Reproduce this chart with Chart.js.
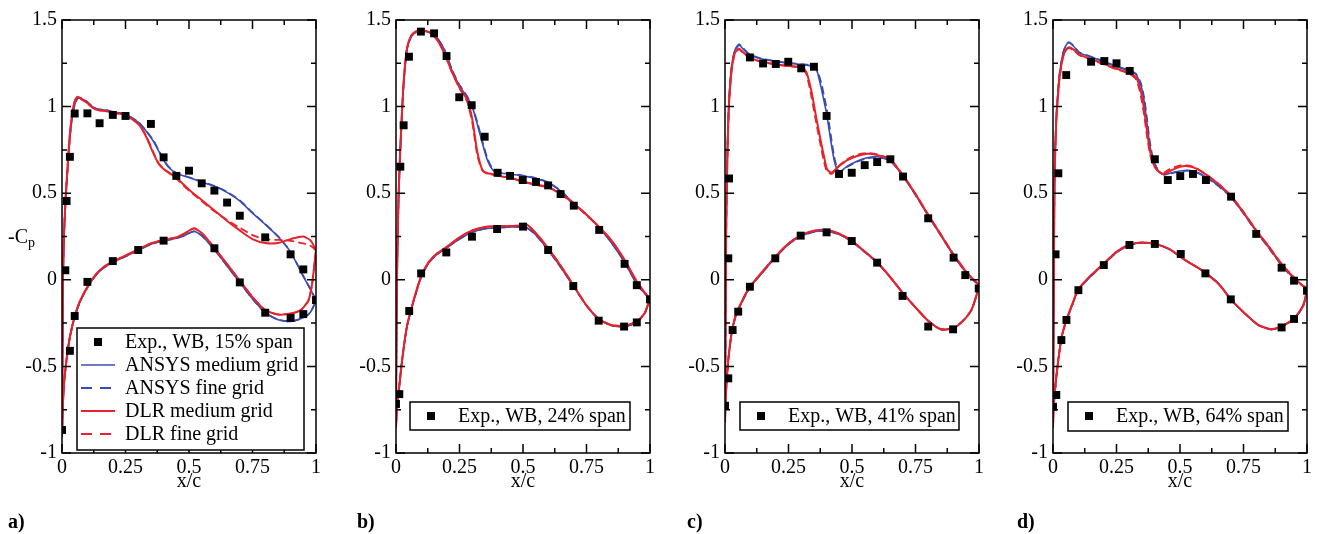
<!DOCTYPE html>
<html lang="en">
<head>
<meta charset="UTF-8">
<title>Pressure distributions</title>
<script src="https://cdn.jsdelivr.net/npm/chart.js"></script>
<style>
  body { margin: 0; background: #fff; width: 1319px; height: 534px; position: relative; overflow: hidden;
         font-family: 'Liberation Serif', 'Times New Roman', serif; color: #000; }
  .panel { position: absolute; top: 0; }
  .tag { position: absolute; top: 511px; font-size: 20px; font-weight: bold; line-height: 20px; }
  .ylab { position: absolute; left: 8px; top: 226px; font-size: 20px; line-height: 20px; }
  .ylab sub { font-size: 14px; vertical-align: -4px; }
</style>
</head>
<body>
<canvas id="chartA" class="panel" width="320" height="534" style="left:4px"></canvas>
<canvas id="chartB" class="panel" width="320" height="534" style="left:338px"></canvas>
<canvas id="chartC" class="panel" width="320" height="534" style="left:667px"></canvas>
<canvas id="chartD" class="panel" width="320" height="534" style="left:995px"></canvas>
<div class="ylab">-C<sub>p</sub></div>
<div class="tag" style="left:8px">a)</div>
<div class="tag" style="left:357px">b)</div>
<div class="tag" style="left:687px">c)</div>
<div class="tag" style="left:1017px">d)</div>
<script>
// axis ticks
var xMajorTicks = [0, 0.25, 0.5, 0.75, 1];
var xMinorTicks = [0.125, 0.375, 0.625, 0.875];
var yMajorTicks = [-1, -0.5, 0, 0.5, 1, 1.5];
var yMinorTicks = [-0.75, -0.25, 0.25, 0.75, 1.25];

// ---- a) 15% span ----
var aXUpper = [0, 0.002, 0.004, 0.008, 0.014, 0.02, 0.025, 0.031, 0.04, 0.05, 0.06, 0.07, 0.085, 0.1, 0.12, 0.14, 0.17, 0.2, 0.25, 0.3, 0.33, 0.36, 0.38, 0.4, 0.42, 0.45, 0.5, 0.55, 0.6, 0.65, 0.7, 0.75, 0.8, 0.85, 0.9, 0.95, 0.98, 1.0];
var aAnsysMedUpper = [-0.9, -0.4, 0.0, 0.25, 0.45, 0.59, 0.7, 0.82, 0.94, 1.01, 1.045, 1.05, 1.04, 1.025, 1.0, 0.985, 0.98, 0.97, 0.955, 0.91, 0.86, 0.8, 0.745, 0.69, 0.65, 0.615, 0.59, 0.565, 0.54, 0.505, 0.455, 0.385, 0.32, 0.25, 0.16, 0.02, -0.06, -0.12];
var aAnsysFineUpper = [-0.9, -0.4, 0.0, 0.25, 0.45, 0.59, 0.7, 0.82, 0.94, 1.01, 1.045, 1.052, 1.042, 1.027, 1.0, 0.985, 0.98, 0.97, 0.955, 0.912, 0.862, 0.805, 0.75, 0.695, 0.652, 0.617, 0.592, 0.567, 0.542, 0.508, 0.458, 0.388, 0.322, 0.252, 0.162, 0.022, -0.058, -0.12];
var aDlrMedUpper = [-0.9, -0.4, 0.02, 0.27, 0.47, 0.61, 0.72, 0.84, 0.96, 1.03, 1.057, 1.05, 1.035, 1.02, 0.995, 0.98, 0.975, 0.965, 0.95, 0.9, 0.83, 0.73, 0.67, 0.64, 0.62, 0.59, 0.52, 0.46, 0.4, 0.34, 0.285, 0.235, 0.212, 0.212, 0.235, 0.25, 0.225, 0.17];
var aDlrFineUpper = [-0.9, -0.4, 0.02, 0.27, 0.47, 0.61, 0.72, 0.84, 0.96, 1.03, 1.057, 1.05, 1.035, 1.02, 0.995, 0.98, 0.975, 0.965, 0.95, 0.9, 0.835, 0.735, 0.675, 0.642, 0.618, 0.585, 0.515, 0.455, 0.395, 0.345, 0.3, 0.258, 0.235, 0.23, 0.225, 0.21, 0.195, 0.17];
var aXLower = [0, 0.003, 0.008, 0.018, 0.031, 0.05, 0.07, 0.1, 0.13, 0.16, 0.2, 0.25, 0.3, 0.35, 0.4, 0.45, 0.48, 0.52, 0.55, 0.6, 0.65, 0.7, 0.75, 0.8, 0.85, 0.9, 0.94, 0.97, 0.985, 1.0];
// lower side: medium and fine grids coincide
var aAnsysLower = [-0.9, -0.74, -0.6, -0.46, -0.33, -0.215, -0.13, -0.045, 0.02, 0.065, 0.1, 0.135, 0.17, 0.205, 0.225, 0.24, 0.255, 0.28, 0.255, 0.175, 0.08, -0.015, -0.11, -0.19, -0.23, -0.24, -0.225, -0.2, -0.17, -0.12];
var aDlrLower = [-0.9, -0.74, -0.6, -0.46, -0.33, -0.21, -0.125, -0.04, 0.025, 0.07, 0.105, 0.14, 0.175, 0.21, 0.23, 0.245, 0.265, 0.297, 0.27, 0.185, 0.09, -0.005, -0.1, -0.175, -0.2, -0.195, -0.175, -0.12, -0.02, 0.17];
var aExpX = [0.013, 0.018, 0.031, 0.05, 0.1, 0.148, 0.2, 0.25, 0.35, 0.4, 0.45, 0.5, 0.55, 0.6, 0.65, 0.7, 0.8, 0.9, 0.95, 0, 0.031, 0.05, 0.1, 0.2, 0.3, 0.4, 0.6, 0.7, 0.8, 0.9, 0.95, 1.0];
var aExpY = [0.055, 0.455, 0.71, 0.96, 0.961, 0.904, 0.952, 0.946, 0.9, 0.707, 0.6, 0.63, 0.557, 0.515, 0.446, 0.37, 0.245, 0.147, 0.06, -0.867, -0.41, -0.209, -0.012, 0.108, 0.172, 0.226, 0.182, -0.015, -0.19, -0.22, -0.198, -0.117];

// ---- b) 24% span ----
var bXUpper = [0, 0.002, 0.005, 0.01, 0.015, 0.02, 0.03, 0.043, 0.06, 0.08, 0.1, 0.13, 0.16, 0.19, 0.22, 0.25, 0.28, 0.3, 0.32, 0.34, 0.36, 0.38, 0.4, 0.45, 0.5, 0.55, 0.6, 0.65, 0.7, 0.75, 0.8, 0.85, 0.9, 0.95, 0.98, 1.0];
var bAnsysMedUpper = [-0.85, -0.3, 0.1, 0.46, 0.67, 0.85, 1.13, 1.33, 1.405, 1.43, 1.435, 1.43, 1.4, 1.33, 1.21, 1.12, 1.055, 1.0, 0.9, 0.79, 0.69, 0.635, 0.62, 0.61, 0.6, 0.585, 0.56, 0.51, 0.44, 0.375, 0.3, 0.21, 0.1, -0.03, -0.08, -0.11];
var bAnsysFineUpper = [-0.85, -0.3, 0.1, 0.46, 0.67, 0.85, 1.13, 1.33, 1.405, 1.43, 1.435, 1.43, 1.4, 1.33, 1.215, 1.125, 1.06, 1.005, 0.91, 0.8, 0.7, 0.64, 0.622, 0.612, 0.602, 0.587, 0.562, 0.512, 0.442, 0.377, 0.302, 0.212, 0.102, -0.028, -0.08, -0.11];
var bDlrMedUpper = [-0.85, -0.3, 0.12, 0.48, 0.69, 0.86, 1.14, 1.335, 1.41, 1.435, 1.44, 1.43, 1.39, 1.31, 1.2, 1.11, 1.04, 0.93, 0.74, 0.635, 0.615, 0.61, 0.6, 0.59, 0.568, 0.55, 0.535, 0.495, 0.44, 0.375, 0.305, 0.225, 0.115, -0.015, -0.075, -0.11];
var bDlrFineUpper = [-0.85, -0.3, 0.12, 0.48, 0.69, 0.86, 1.14, 1.335, 1.41, 1.435, 1.44, 1.43, 1.39, 1.31, 1.2, 1.105, 1.03, 0.91, 0.72, 0.63, 0.612, 0.607, 0.598, 0.588, 0.566, 0.548, 0.533, 0.493, 0.438, 0.373, 0.303, 0.223, 0.113, -0.017, -0.075, -0.11];
var bXLower = [0, 0.003, 0.01, 0.024, 0.043, 0.07, 0.1, 0.13, 0.16, 0.2, 0.25, 0.3, 0.35, 0.4, 0.45, 0.5, 0.515, 0.55, 0.6, 0.65, 0.7, 0.75, 0.8, 0.85, 0.9, 0.95, 0.98, 1.0];
var bAnsysLower = [-0.85, -0.75, -0.655, -0.465, -0.27, -0.12, 0.02, 0.1, 0.145, 0.185, 0.235, 0.275, 0.295, 0.3, 0.305, 0.305, 0.3, 0.26, 0.17, 0.07, -0.04, -0.15, -0.23, -0.265, -0.27, -0.245, -0.19, -0.11];
var bDlrLower = [-0.85, -0.75, -0.655, -0.465, -0.27, -0.115, 0.025, 0.105, 0.15, 0.19, 0.245, 0.285, 0.305, 0.31, 0.31, 0.315, 0.318, 0.27, 0.18, 0.078, -0.035, -0.148, -0.228, -0.262, -0.265, -0.24, -0.19, -0.11];
var bExpX = [0.017, 0.03, 0.051, 0.098, 0.15, 0.199, 0.249, 0.298, 0.349, 0.4, 0.449, 0.499, 0.551, 0.599, 0.648, 0.7, 0.8, 0.9, 0.948, 0, 0.013, 0.052, 0.099, 0.198, 0.299, 0.398, 0.5, 0.599, 0.698, 0.798, 0.898, 0.948, 1.0];
var bExpY = [0.653, 0.892, 1.288, 1.433, 1.423, 1.292, 1.054, 1.008, 0.826, 0.618, 0.6, 0.576, 0.565, 0.545, 0.495, 0.428, 0.288, 0.092, -0.031, -0.717, -0.66, -0.18, 0.037, 0.158, 0.249, 0.293, 0.307, 0.172, -0.036, -0.236, -0.27, -0.246, -0.113];

// ---- c) 41% span ----
var cXUpper = [0, 0.002, 0.005, 0.01, 0.016, 0.026, 0.039, 0.055, 0.07, 0.09, 0.12, 0.16, 0.2, 0.25, 0.3, 0.32, 0.34, 0.36, 0.38, 0.39, 0.4, 0.41, 0.42, 0.43, 0.44, 0.45, 0.48, 0.52, 0.56, 0.6, 0.65, 0.7, 0.75, 0.8, 0.85, 0.9, 0.95, 0.98, 1.0];
var cAnsysMedUpper = [-0.82, -0.3, 0.35, 0.78, 1.04, 1.23, 1.325, 1.355, 1.335, 1.305, 1.285, 1.27, 1.26, 1.25, 1.243, 1.24, 1.235, 1.215, 1.1, 1.03, 0.96, 0.865, 0.77, 0.69, 0.64, 0.62, 0.655, 0.685, 0.705, 0.71, 0.69, 0.6, 0.49, 0.37, 0.255, 0.14, 0.04, -0.005, -0.03];
var cAnsysFineUpper = [-0.82, -0.3, 0.35, 0.78, 1.04, 1.23, 1.325, 1.36, 1.34, 1.31, 1.288, 1.272, 1.262, 1.252, 1.245, 1.242, 1.237, 1.222, 1.13, 1.06, 0.99, 0.9, 0.8, 0.71, 0.65, 0.622, 0.652, 0.682, 0.702, 0.707, 0.688, 0.6, 0.49, 0.37, 0.255, 0.14, 0.04, -0.005, -0.03];
var cDlrMedUpper = [-0.82, -0.3, 0.33, 0.75, 1.02, 1.21, 1.31, 1.335, 1.315, 1.29, 1.27, 1.255, 1.245, 1.235, 1.228, 1.2, 1.09, 0.93, 0.78, 0.71, 0.645, 0.625, 0.62, 0.63, 0.645, 0.658, 0.69, 0.715, 0.728, 0.72, 0.695, 0.605, 0.495, 0.375, 0.26, 0.145, 0.045, 0.0, -0.03];
var cDlrFineUpper = [-0.82, -0.3, 0.33, 0.75, 1.02, 1.21, 1.31, 1.33, 1.312, 1.288, 1.268, 1.253, 1.243, 1.233, 1.225, 1.19, 1.06, 0.9, 0.75, 0.68, 0.63, 0.615, 0.612, 0.625, 0.642, 0.66, 0.695, 0.722, 0.732, 0.724, 0.698, 0.607, 0.497, 0.377, 0.262, 0.147, 0.047, 0.0, -0.03];
var cXLower = [0, 0.002, 0.006, 0.013, 0.026, 0.04, 0.055, 0.08, 0.1, 0.146, 0.2, 0.25, 0.3, 0.35, 0.4, 0.45, 0.5, 0.55, 0.6, 0.65, 0.7, 0.75, 0.8, 0.85, 0.9, 0.94, 0.97, 0.99, 1.0];
var cAnsysLower = [-0.82, -0.7, -0.6, -0.463, -0.31, -0.22, -0.165, -0.09, -0.04, 0.04, 0.132, 0.205, 0.252, 0.277, 0.282, 0.262, 0.22, 0.16, 0.098, 0.015, -0.077, -0.16, -0.237, -0.285, -0.278, -0.232, -0.175, -0.09, -0.03];
var cDlrLower = [-0.82, -0.7, -0.6, -0.463, -0.305, -0.215, -0.16, -0.085, -0.035, 0.045, 0.137, 0.21, 0.258, 0.283, 0.287, 0.266, 0.224, 0.164, 0.1, 0.017, -0.075, -0.16, -0.237, -0.287, -0.28, -0.233, -0.175, -0.09, -0.03];
var cExpX = [0.013, 0.016, 0.098, 0.15, 0.2, 0.249, 0.3, 0.35, 0.4, 0.449, 0.499, 0.55, 0.599, 0.651, 0.701, 0.8, 0.9, 0.946, 0.999, 0, 0.013, 0.03, 0.052, 0.098, 0.198, 0.298, 0.4, 0.499, 0.599, 0.699, 0.8, 0.898];
var cExpY = [0.124, 0.585, 1.284, 1.249, 1.246, 1.259, 1.221, 1.23, 0.946, 0.611, 0.618, 0.662, 0.68, 0.696, 0.596, 0.355, 0.128, 0.027, -0.05, -0.727, -0.569, -0.29, -0.184, -0.04, 0.124, 0.255, 0.274, 0.224, 0.099, -0.093, -0.27, -0.286];

// ---- d) 64% span ----
var dXUpper = [0, 0.002, 0.004, 0.0065, 0.013, 0.02, 0.026, 0.039, 0.05, 0.062, 0.08, 0.104, 0.143, 0.195, 0.247, 0.3, 0.326, 0.34, 0.35, 0.36, 0.37, 0.38, 0.39, 0.4, 0.417, 0.436, 0.46, 0.5, 0.53, 0.56, 0.6, 0.65, 0.7, 0.75, 0.8, 0.85, 0.9, 0.95, 0.98, 1.0];
var dAnsysMedUpper = [-0.85, -0.3, 0.2, 0.64, 0.94, 1.09, 1.19, 1.305, 1.35, 1.37, 1.35, 1.31, 1.29, 1.262, 1.232, 1.207, 1.185, 1.145, 1.1, 1.02, 0.9, 0.79, 0.71, 0.665, 0.625, 0.607, 0.615, 0.628, 0.632, 0.625, 0.596, 0.545, 0.48, 0.385, 0.28, 0.185, 0.085, 0.005, -0.03, -0.05];
var dAnsysFineUpper = [-0.85, -0.3, 0.2, 0.64, 0.94, 1.09, 1.19, 1.305, 1.352, 1.372, 1.352, 1.312, 1.292, 1.264, 1.234, 1.21, 1.19, 1.155, 1.115, 1.04, 0.93, 0.81, 0.725, 0.672, 0.628, 0.608, 0.613, 0.625, 0.63, 0.623, 0.594, 0.543, 0.478, 0.383, 0.278, 0.183, 0.083, 0.003, -0.03, -0.05];
var dDlrMedUpper = [-0.85, -0.3, 0.18, 0.62, 0.92, 1.07, 1.17, 1.285, 1.325, 1.342, 1.33, 1.3, 1.278, 1.25, 1.22, 1.195, 1.17, 1.12, 1.06, 0.97, 0.86, 0.76, 0.69, 0.655, 0.622, 0.61, 0.628, 0.652, 0.656, 0.645, 0.61, 0.555, 0.485, 0.39, 0.285, 0.19, 0.09, 0.01, -0.03, -0.05];
var dDlrFineUpper = [-0.85, -0.3, 0.18, 0.62, 0.92, 1.07, 1.17, 1.285, 1.322, 1.338, 1.326, 1.297, 1.275, 1.247, 1.217, 1.19, 1.16, 1.1, 1.03, 0.94, 0.83, 0.74, 0.68, 0.65, 0.625, 0.618, 0.64, 0.66, 0.66, 0.648, 0.612, 0.557, 0.487, 0.392, 0.287, 0.192, 0.092, 0.012, -0.03, -0.05];
var dXLower = [0, 0.002, 0.006, 0.013, 0.022, 0.034, 0.054, 0.075, 0.099, 0.145, 0.197, 0.25, 0.3, 0.353, 0.405, 0.457, 0.52, 0.587, 0.652, 0.704, 0.757, 0.809, 0.86, 0.9, 0.95, 0.984, 0.997, 1.0];
var dAnsysLower = [-0.85, -0.75, -0.67, -0.56, -0.45, -0.33, -0.23, -0.15, -0.06, 0.015, 0.085, 0.158, 0.2, 0.214, 0.205, 0.178, 0.115, 0.055, -0.022, -0.118, -0.196, -0.262, -0.287, -0.272, -0.225, -0.155, -0.085, -0.05];
var dDlrLower = [-0.85, -0.75, -0.67, -0.56, -0.45, -0.33, -0.225, -0.145, -0.055, 0.02, 0.09, 0.162, 0.203, 0.216, 0.206, 0.178, 0.114, 0.053, -0.024, -0.12, -0.197, -0.262, -0.285, -0.27, -0.222, -0.15, -0.08, -0.05];
var dExpX = [0.01, 0.021, 0.052, 0.15, 0.202, 0.25, 0.302, 0.401, 0.452, 0.501, 0.551, 0.602, 0.701, 0.8, 0.9, 0.949, 0, 0.013, 0.033, 0.053, 0.1, 0.2, 0.301, 0.401, 0.503, 0.6, 0.7, 0.9, 0.949, 1.0];
var dExpY = [0.147, 0.615, 1.182, 1.259, 1.263, 1.25, 1.206, 0.696, 0.576, 0.599, 0.611, 0.576, 0.48, 0.265, 0.07, -0.005, -0.733, -0.665, -0.348, -0.232, -0.06, 0.085, 0.201, 0.207, 0.149, 0.037, -0.113, -0.275, -0.226, -0.063];

var BLUE = '#3a4cb1';
var RED = '#e8222a';

Chart.defaults.font.family = "'Liberation Serif', 'Times New Roman', serif";
Chart.defaults.font.size = 20;
Chart.defaults.color = '#000';

// upper side from trailing edge to leading edge, then lower side back to the trailing edge
function surface(xUp, yUp, xLo, yLo) {
    var pts = [];
    for (var i = xUp.length - 1; i >= 0; i--) pts.push({ x: xUp[i], y: yUp[i] });
    for (var j = 1; j < xLo.length; j++) pts.push({ x: xLo[j], y: yLo[j] });
    return pts;
}

function points(xs, ys) {
    return xs.map(function (x, i) { return { x: x, y: ys[i] }; });
}

function fmt(v) {
    return String(Math.round(v * 1000) / 1000);
}

// frame, inward ticks and boxed legend
var framePlugin = {
    id: 'frame',
    afterDatasetsDraw: function (chart, args, opts) {
        var ctx = chart.ctx, a = chart.chartArea;
        var sx = chart.scales.x, sy = chart.scales.y;
        ctx.save();
        ctx.strokeStyle = '#000';
        ctx.lineWidth = 1.5;
        ctx.setLineDash([]);
        ctx.beginPath();
        function xt(list, len) {
            list.forEach(function (v) {
                var p = sx.getPixelForValue(v);
                ctx.moveTo(p, a.bottom); ctx.lineTo(p, a.bottom - len);
                ctx.moveTo(p, a.top); ctx.lineTo(p, a.top + len);
            });
        }
        function yt(list, len) {
            list.forEach(function (v) {
                var p = sy.getPixelForValue(v);
                ctx.moveTo(a.left, p); ctx.lineTo(a.left + len, p);
                ctx.moveTo(a.right, p); ctx.lineTo(a.right - len, p);
            });
        }
        xt(xMajorTicks, 9); xt(xMinorTicks, 5);
        yt(yMajorTicks, 9); yt(yMinorTicks, 5);
        ctx.stroke();
        ctx.strokeRect(a.left, a.top, a.right - a.left, a.bottom - a.top);

        var lg = opts.legend;
        var bx = a.left + lg.left, by = a.top + lg.top;
        ctx.fillStyle = '#fff';
        ctx.fillRect(bx, by, lg.width, lg.height);
        ctx.strokeRect(bx, by, lg.width, lg.height);
        chart.data.datasets.slice(0, lg.rows).forEach(function (ds, i) {
            var cy = by + 14 + i * 23;
            if (ds.showLine === false) {
                ctx.fillStyle = '#000';
                ctx.fillRect(bx + 17, cy - 4, 8, 8);
            } else {
                ctx.strokeStyle = ds.borderColor;
                ctx.lineWidth = ds.borderWidth;
                ctx.setLineDash(ds.borderDash ? [11, 8] : []);
                ctx.beginPath();
                ctx.moveTo(bx + 4, cy); ctx.lineTo(bx + 38, cy);
                ctx.stroke();
            }
            ctx.fillStyle = '#000';
            ctx.font = "20px 'Liberation Serif', 'Times New Roman', serif";
            ctx.textBaseline = 'middle';
            ctx.fillText(ds.label, bx + 48, cy + 1);
        });
        ctx.restore();
    }
};

function makeChart(id, expLabel, expX, expY, xUp, ansMedUp, ansFineUp, dlrMedUp, dlrFineUp, xLo, ansLo, dlrLo, legendBox) {
    var line = { showLine: true, pointRadius: 0, fill: false, tension: 0.2 };
    var datasets = [
        { label: expLabel, data: points(expX, expY), showLine: false, pointStyle: 'rect', pointRadius: 5.6,
          backgroundColor: '#000', borderColor: '#000', borderWidth: 0, order: 0 },
        Object.assign({ label: 'ANSYS medium grid', data: surface(xUp, ansMedUp, xLo, ansLo),
          borderColor: BLUE, borderWidth: 1.6, order: 4 }, line),
        Object.assign({ label: 'ANSYS fine grid', data: surface(xUp, ansFineUp, xLo, ansLo),
          borderColor: BLUE, borderWidth: 1.8, borderDash: [8, 4], order: 3 }, line),
        Object.assign({ label: 'DLR medium grid', data: surface(xUp, dlrMedUp, xLo, dlrLo),
          borderColor: RED, borderWidth: 2, order: 1 }, line),
        Object.assign({ label: 'DLR fine grid', data: surface(xUp, dlrFineUp, xLo, dlrLo),
          borderColor: RED, borderWidth: 1.8, borderDash: [8, 4], order: 2 }, line)
    ];
    return new Chart(document.getElementById(id), {
        type: 'scatter',
        data: { datasets: datasets },
        options: {
            responsive: false,
            animation: false,
            layout: { padding: { left: 0, right: 6, top: 20, bottom: 36 } },
            plugins: {
                legend: { display: false },
                tooltip: { enabled: false },
                frame: { legend: legendBox }
            },
            scales: {
                x: {
                    type: 'linear', min: 0, max: 1,
                    afterFit: function (s) { s.height = 45; },
                    grid: { display: false, drawTicks: false },
                    border: { display: false },
                    ticks: { stepSize: 0.25, autoSkip: false, maxRotation: 0, padding: 3, callback: fmt },
                    title: { display: true, text: 'x/c', padding: { top: 0, bottom: 4 } }
                },
                y: {
                    type: 'linear', min: -1, max: 1.5,
                    afterFit: function (s) { s.width = 58; },
                    grid: { display: false, drawTicks: false },
                    border: { display: false },
                    ticks: { stepSize: 0.5, autoSkip: false, padding: 5, callback: fmt }
                }
            }
        },
        plugins: [framePlugin]
    });
}

makeChart('chartA', 'Exp., WB, 15% span', aExpX, aExpY, aXUpper, aAnsysMedUpper, aAnsysFineUpper, aDlrMedUpper, aDlrFineUpper,
    aXLower, aAnsysLower, aDlrLower, { left: 15, top: 308, width: 227, height: 122, rows: 5 });
makeChart('chartB', 'Exp., WB, 24% span', bExpX, bExpY, bXUpper, bAnsysMedUpper, bAnsysFineUpper, bDlrMedUpper, bDlrFineUpper,
    bXLower, bAnsysLower, bDlrLower, { left: 14, top: 382, width: 220, height: 28, rows: 1 });
makeChart('chartC', 'Exp., WB, 41% span', cExpX, cExpY, cXUpper, cAnsysMedUpper, cAnsysFineUpper, cDlrMedUpper, cDlrFineUpper,
    cXLower, cAnsysLower, cDlrLower, { left: 15, top: 382, width: 219, height: 28, rows: 1 });
makeChart('chartD', 'Exp., WB, 64% span', dExpX, dExpY, dXUpper, dAnsysMedUpper, dAnsysFineUpper, dDlrMedUpper, dDlrFineUpper,
    dXLower, dAnsysLower, dDlrLower, { left: 15, top: 382, width: 220, height: 29, rows: 1 });
</script>
</body>
</html>
